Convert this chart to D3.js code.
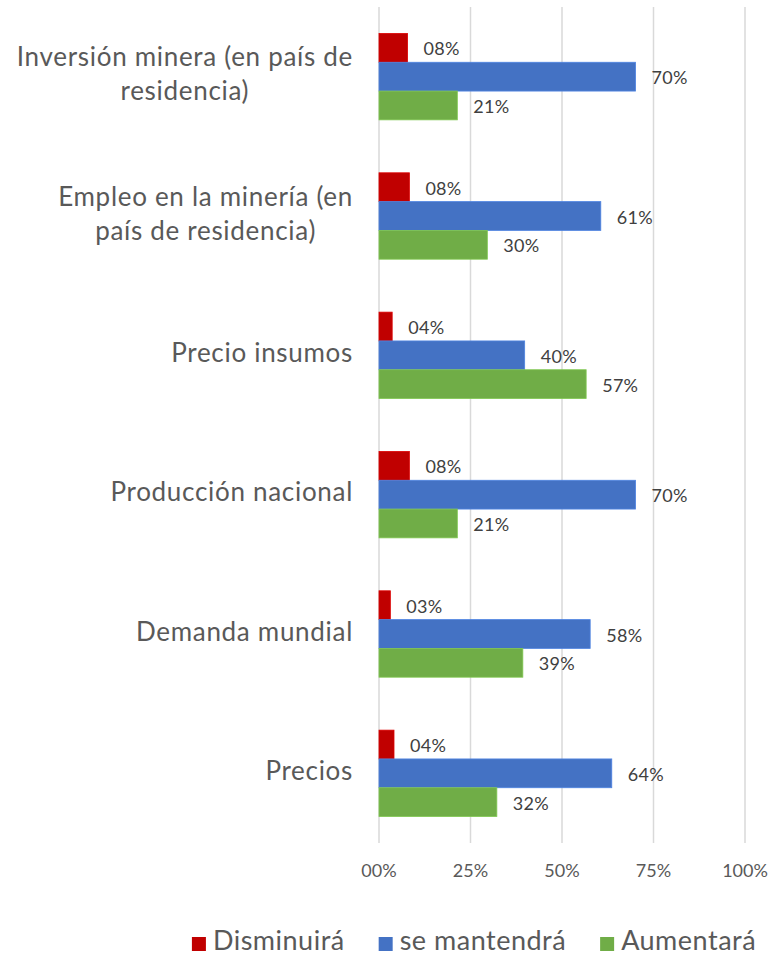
<!DOCTYPE html>
<html>
<head>
<meta charset="utf-8">
<script src="https://cdn.jsdelivr.net/npm/d3@7"></script>
<style>
  body { margin: 0; background: #fff; }
  text { font-family: Lato, "Open Sans", sans-serif; }
</style>
</head>
<body>
<div id="chart"></div>
<script>
// categories, top to bottom (each one split in lines like the original)
var categories = [
  ["Inversión minera (en país de", "residencia)"],
  ["Empleo en la minería (en", "país de residencia)"],
  ["Precio insumos"],
  ["Producción nacional"],
  ["Demanda mundial"],
  ["Precios"]
];
var seriesNames = ["Disminuirá", "se mantendrá", "Aumentará"];
var disminuira = [0.078, 0.083, 0.036, 0.083, 0.031, 0.041];
var mantendra  = [0.701, 0.606, 0.398, 0.701, 0.577, 0.636];
var aumentara  = [0.214, 0.296, 0.566, 0.214, 0.393, 0.322];
var ticks = [0, 0.25, 0.5, 0.75, 1];

var colors = ["#C00000", "#4472C4", "#70AD47"];
var width = 769, height = 956;
var plotLeft = 379, plotRight = 745, plotTop = 7, plotBottom = 843;

var svg = d3.select("#chart").append("svg")
  .attr("width", width)
  .attr("height", height);

var x = d3.scaleLinear().domain([0, 1]).range([plotLeft, plotRight]);
var y = d3.scaleBand().domain(d3.range(categories.length))
  .range([plotTop, plotBottom]).paddingInner(0.38).paddingOuter(0.19);
var sub = d3.scaleBand().domain(d3.range(3)).range([0, y.bandwidth()]);

var fmt = function(v) {
  var p = Math.round(v * 100);
  return (p < 10 ? "0" + p : p) + "%";
};

// gridlines
svg.append("g").selectAll("line")
  .data(ticks)
  .join("line")
  .attr("x1", d => x(d)).attr("x2", d => x(d))
  .attr("y1", plotTop).attr("y2", plotBottom)
  .attr("stroke", "#D9D9D9")
  .attr("stroke-width", 1.5);

// x axis tick labels
svg.append("g").selectAll("text")
  .data(ticks)
  .join("text")
  .attr("x", d => x(d))
  .attr("y", 872)
  .attr("text-anchor", "middle")
  .attr("dominant-baseline", "middle")
  .attr("font-size", 18)
  .attr("fill", "#595959")
  .text(fmt);

// bars
var series = [disminuira, mantendra, aumentara];
series.forEach(function(vals, s) {
  var g = svg.append("g");
  g.selectAll("rect")
    .data(vals)
    .join("rect")
    .attr("x", x(0))
    .attr("y", (d, i) => y(i) + sub(s))
    .attr("width", d => x(d) - x(0))
    .attr("height", sub.bandwidth())
    .attr("fill", colors[s])
    .attr("stroke", d3.color(colors[s]).brighter(0.4))
    .attr("stroke-width", 0.8);
  g.selectAll("text")
    .data(vals)
    .join("text")
    .attr("x", d => x(d) + 16)
    .attr("y", (d, i) => y(i) + sub(s) + sub.bandwidth() / 2 + 3)
    .attr("dominant-baseline", "middle")
    .attr("font-size", 18)
    .attr("letter-spacing", 0.3)
    .attr("fill", "#404040")
    .text(fmt);
});

// category labels: lines centred, block right aligned
var lineH = 34;
categories.forEach(function(lines, i) {
  var cy = y(i) + y.bandwidth() / 2;
  var t = svg.append("text")
    .attr("text-anchor", "middle")
    .attr("font-size", 26)
    .attr("letter-spacing", 0.7)
    .attr("fill", "#595959");
  var spans = lines.map(function(l, k) {
    return t.append("tspan")
      .attr("y", cy + (k - (lines.length - 1) / 2) * lineH)
      .attr("dominant-baseline", "middle")
      .text(l);
  });
  var w = d3.max(spans, sp => sp.node().getComputedTextLength());
  spans.forEach(sp => sp.attr("x", 353 - w / 2));
});

// legend
var legend = svg.append("g");
var pos = 0;
seriesNames.forEach(function(n, i) {
  var it = legend.append("g").attr("transform", "translate(" + pos + ",0)");
  it.append("rect").attr("x", 0).attr("y", -6).attr("width", 14).attr("height", 14)
    .attr("fill", colors[i]);
  var tx = it.append("text").attr("x", 21).attr("y", 0)
    .attr("dominant-baseline", "middle")
    .attr("font-size", 27)
    .attr("letter-spacing", 0.5)
    .attr("fill", "#595959")
    .text(n);
  pos += 21 + tx.node().getComputedTextLength() + 34;
});
var legW = pos - 34;
legend.attr("transform", "translate(" + (474 - legW / 2) + ",943)");
</script>
</body>
</html>
